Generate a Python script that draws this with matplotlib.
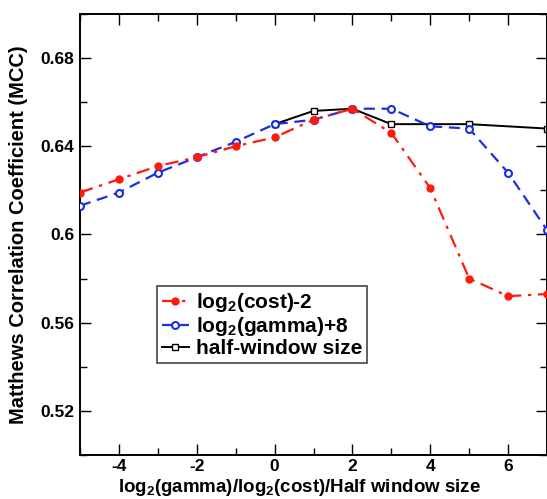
import numpy as np
import matplotlib
matplotlib.use("Agg")
import matplotlib.pyplot as plt
from matplotlib.ticker import MultipleLocator

plt.rcParams["font.family"] = ["Liberation Sans", "DejaVu Sans"]
plt.rcParams["font.weight"] = "bold"
plt.rcParams["mathtext.fontset"] = "custom"
plt.rcParams["mathtext.rm"] = "Liberation Sans:bold"
plt.rcParams["mathtext.default"] = "rm"
plt.rcParams["axes.unicode_minus"] = False

# MCC vs parameter value
cost_x = [-5, -4, -3, -2, -1, 0, 1, 2, 3, 4, 5, 6, 7]
cost_mcc = [0.619, 0.625, 0.631, 0.635, 0.640, 0.644, 0.652, 0.657, 0.646, 0.621, 0.580, 0.572, 0.573]

gamma_x = [-5, -4, -3, -2, -1, 0, 1, 2, 3, 4, 5, 6, 7]
gamma_mcc = [0.613, 0.619, 0.628, 0.635, 0.642, 0.650, 0.652, 0.657, 0.657, 0.649, 0.648, 0.628, 0.602]

win_x = [0, 1, 2, 3, 5, 7]
win_mcc = [0.650, 0.656, 0.657, 0.650, 0.650, 0.648]

fig = plt.figure(figsize=(5.47, 4.99), dpi=100)
ax = fig.add_axes([0.1463, 0.0882, 0.8537, 0.884])

ax.plot(win_x, win_mcc, "-", color="black", lw=1.4, marker="s", ms=4.5,
        mfc="white", mec="black", mew=1.0, label="half-window size", zorder=2)
ax.plot(gamma_x, gamma_mcc, color="#1a2fe0", lw=1.6, ls=(0, (5, 3)),
        marker="o", ms=5, mfc="white", mec="#1a2fe0", mew=1.5,
        label=r"log$_2$(gamma)+8", zorder=3)
ax.plot(cost_x, cost_mcc, color="#ff1a0d", lw=1.6, ls=(0, (6, 3, 1.5, 3)),
        marker="o", ms=5, mfc="#ff1a0d", mec="#ff1a0d",
        label=r"log$_2$(cost)-2", zorder=4)

ax.set_xlim(-5, 7)
ax.set_ylim(0.50, 0.70)
ax.xaxis.set_minor_locator(MultipleLocator(1))
ax.yaxis.set_minor_locator(MultipleLocator(0.02))
ax.set_yticks([0.52, 0.56, 0.60, 0.64, 0.68])
ax.set_yticklabels(["0.52", "0.56", "0.6", "0.64", "0.68"])
ax.set_xticks([-4, -2, 0, 2, 4, 6])

ax.tick_params(which="both", direction="in", top=True, right=True, width=1.0)
ax.tick_params(which="major", length=8, labelsize=12.5)
ax.tick_params(axis="x", which="major", pad=3)
ax.tick_params(axis="y", which="major", pad=4)
ax.tick_params(which="minor", length=5)
for s in ax.spines.values():
    s.set_linewidth(1.4)

ax.set_xlabel(r"log$_2$(gamma)/log$_2$(cost)/Half window size",
              fontsize=13.5, fontweight="bold")
ax.xaxis.set_label_coords(0.471, -0.049, transform=ax.transAxes)
ax.xaxis.label.set_va("top")
ax.set_ylabel("Matthews Correlation Coefficient (MCC)", fontsize=14.5,
              fontweight="bold")
ax.yaxis.set_label_coords(-0.111, 0.5, transform=ax.transAxes)

handles, labels = ax.get_legend_handles_labels()
order = [2, 1, 0]
leg = ax.legend([handles[i] for i in order], [labels[i] for i in order],
                loc="upper left", bbox_to_anchor=(0.165, 0.382),
                fontsize=15, handlelength=1.3, handletextpad=0.35,
                borderpad=0.22, labelspacing=0.05, borderaxespad=0,
                fancybox=False, framealpha=1, edgecolor="#444444")
leg.get_frame().set_linewidth(1.2)

fig.savefig("out.png", dpi=100)
